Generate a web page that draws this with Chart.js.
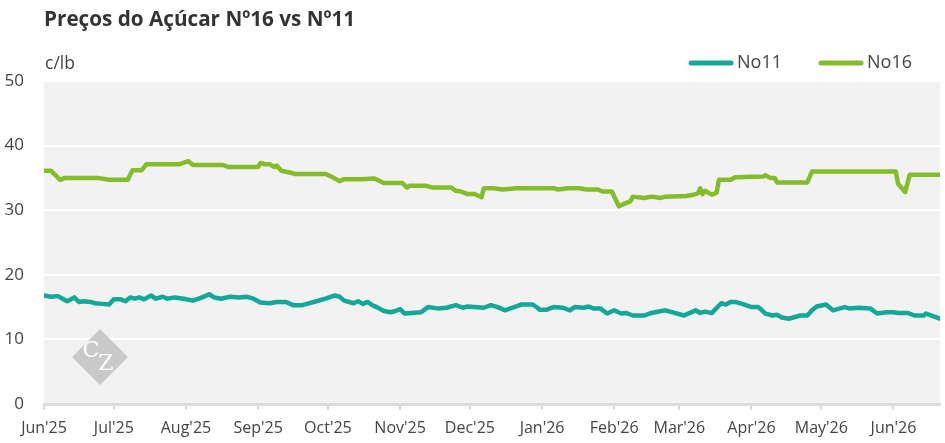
<!DOCTYPE html>
<html>
<head>
<meta charset="utf-8">
<script src="https://cdn.jsdelivr.net/npm/chart.js@4.4.1/dist/chart.umd.min.js"></script>
<style>
  html, body { margin: 0; padding: 0; background: #fff; }
  #wrap { width: 945px; height: 443px; position: relative; }
</style>
</head>
<body>
<div id="wrap"><canvas id="chart"></canvas></div>
<script>
// x values are days since 1 Jun 2025
const monthDays = [0, 30, 61, 92, 122, 153, 183, 214, 245, 273, 304, 334, 365];
const monthLabels = ["Jun'25", "Jul'25", "Aug'25", "Sep'25", "Oct'25", "Nov'25", "Dec'25",
  "Jan'26", "Feb'26", "Mar'26", "Apr'26", "May'26", "Jun'26"];

const no16Days = [0, 3, 7, 9, 23, 28, 36, 38, 42, 44, 58, 62, 64, 77, 79, 92, 93, 95, 97, 99,
  100, 102, 106, 108, 121, 124, 127, 129, 136, 142, 146, 154, 156, 157, 164, 167, 175, 177,
  179, 182, 185, 188, 189, 193, 197, 203, 219, 221, 225, 230, 233, 238, 240, 244, 247, 250,
  252, 253, 258, 261, 265, 267, 276, 279, 281, 282, 283, 284, 286, 287, 289, 290, 295, 297,
  309, 310, 312, 314, 315, 328, 330, 366, 367, 370, 372, 385];
const no16Values = [36.1, 36.1, 34.7, 35.0, 35.0, 34.7, 34.7, 36.2, 36.2, 37.1, 37.1, 37.6,
  37.0, 37.0, 36.7, 36.7, 37.3, 37.1, 37.1, 36.7, 36.9, 36.1, 35.8, 35.6, 35.6, 35.1, 34.5,
  34.8, 34.8, 34.9, 34.2, 34.2, 33.5, 33.8, 33.8, 33.5, 33.5, 33.0, 32.9, 32.5, 32.5, 32.0,
  33.4, 33.4, 33.2, 33.4, 33.4, 33.2, 33.4, 33.4, 33.2, 33.2, 32.9, 32.9, 30.6, 31.1, 31.4,
  32.1, 31.9, 32.1, 31.9, 32.1, 32.2, 32.4, 32.6, 33.4, 32.5, 33.0, 32.6, 32.4, 32.7, 34.7,
  34.7, 35.1, 35.2, 35.4, 35.0, 35.0, 34.3, 34.3, 36.0, 36.0, 34.1, 32.8, 35.5, 35.5];

const no11Days = [0, 3, 6, 8, 10, 13, 15, 17, 20, 22, 25, 28, 30, 33, 35, 37, 39, 41, 43, 46,
  48, 51, 53, 56, 60, 64, 68, 71, 73, 76, 80, 84, 87, 90, 93, 97, 100, 104, 107, 111, 113,
  117, 121, 125, 127, 129, 133, 135, 137, 139, 141, 143, 146, 149, 151, 153, 155, 158, 162,
  165, 169, 173, 177, 180, 182, 189, 192, 195, 198, 202, 205, 210, 212, 213, 216, 219, 223,
  226, 228, 232, 234, 236, 239, 242, 245, 248, 250, 253, 258, 261, 267, 271, 275, 280, 282,
  284, 287, 291, 293, 295, 297, 300, 304, 307, 310, 313, 315, 317, 320, 325, 328, 330, 332,
  336, 339, 344, 346, 350, 355, 358, 362, 365, 367, 371, 374, 378, 379, 382, 385];
const no11Values = [16.8, 16.6, 16.7, 16.3, 15.9, 16.5, 15.8, 15.9, 15.8, 15.6, 15.5, 15.4,
  16.2, 16.2, 15.9, 16.5, 16.3, 16.5, 16.2, 16.8, 16.3, 16.6, 16.3, 16.5, 16.3, 16.0, 16.5,
  17.0, 16.5, 16.3, 16.6, 16.5, 16.6, 16.3, 15.7, 15.6, 15.8, 15.8, 15.3, 15.3, 15.5, 15.9,
  16.3, 16.8, 16.6, 16.0, 15.6, 15.9, 15.5, 15.8, 15.3, 15.0, 14.4, 14.2, 14.4, 14.7, 14.0,
  14.1, 14.2, 15.0, 14.8, 14.9, 15.3, 14.9, 15.1, 14.9, 15.3, 15.0, 14.5, 15.0, 15.4, 15.4,
  14.9, 14.6, 14.6, 15.0, 14.9, 14.5, 15.0, 14.9, 15.1, 14.8, 14.8, 14.0, 14.5, 14.0, 14.1,
  13.7, 13.7, 14.1, 14.5, 14.1, 13.7, 14.5, 14.1, 14.3, 14.1, 15.6, 15.4, 15.8, 15.8, 15.5,
  15.0, 15.0, 14.0, 13.7, 13.8, 13.4, 13.2, 13.7, 13.7, 14.5, 15.1, 15.4, 14.5, 15.0, 14.8,
  14.9, 14.8, 14.0, 14.2, 14.2, 14.1, 14.1, 13.7, 13.7, 14.0, 13.6, 13.2];

const yTicks = [0, 10, 20, 30, 40, 50];

const FONT = "'Open Sans', sans-serif";

function toPoints(days, values) {
  return days.map((d, i) => ({ x: d, y: values[i] }));
}

// grey plot background, watermark, title, unit and legend
const decor = {
  id: 'decor',
  beforeDraw(chart) {
    const { ctx, chartArea: a } = chart;
    ctx.save();
    ctx.fillStyle = '#f2f2f2';
    ctx.fillRect(a.left, a.top, a.right - a.left, a.bottom - a.top);
    ctx.restore();
  },
  beforeDatasetsDraw(chart) {
    const { ctx, chartArea: a } = chart;
    const cx = a.left + 56, cy = a.bottom - 47, r = 28;
    ctx.save();
    ctx.fillStyle = '#c9c9c9';
    ctx.beginPath();
    ctx.moveTo(cx, cy - r);
    ctx.lineTo(cx + r, cy);
    ctx.lineTo(cx, cy + r);
    ctx.lineTo(cx - r, cy);
    ctx.closePath();
    ctx.fill();
    ctx.fillStyle = '#fff';
    ctx.font = "22px 'DejaVu Serif', serif";
    ctx.textAlign = 'center';
    ctx.textBaseline = 'middle';
    ctx.fillText('C', cx - 9, cy - 6);
    ctx.fillText('Z', cx + 6, cy + 7);
    ctx.restore();
  },
  afterDraw(chart) {
    const { ctx } = chart;
    ctx.save();
    ctx.fillStyle = '#333';
    ctx.font = "bold 20.7px " + FONT;
    ctx.textBaseline = 'alphabetic';
    ctx.fillText('Preços do Açúcar Nº16 vs Nº11', 44, 26);

    ctx.fillStyle = '#444';
    ctx.font = "17.5px " + FONT;
    ctx.fillText('c/lb', 45, 69);

    // legend, right aligned
    ctx.font = "18px " + FONT;
    ctx.textBaseline = 'middle';
    let x = 912;
    const items = chart.data.datasets.slice().reverse();
    items.forEach((ds) => {
      const w = ctx.measureText(ds.label).width;
      ctx.fillStyle = '#444';
      ctx.fillText(ds.label, x - w, 63);
      ctx.strokeStyle = ds.borderColor;
      ctx.lineWidth = 5;
      ctx.lineCap = 'round';
      ctx.beginPath();
      ctx.moveTo(x - w - 6, 63);
      ctx.lineTo(x - w - 46, 63);
      ctx.stroke();
      x = x - w - 48 - 37;
    });
    ctx.restore();
  }
};

new Chart(document.getElementById('chart'), {
  type: 'line',
  data: {
    datasets: [
      {
        label: 'No11',
        data: toPoints(no11Days, no11Values),
        borderColor: '#14a898',
        borderWidth: 4.5,
        pointRadius: 0,
        tension: 0,
        borderJoinStyle: 'round',
        borderCapStyle: 'round'
      },
      {
        label: 'No16',
        data: toPoints(no16Days, no16Values),
        borderColor: '#83bd2a',
        borderWidth: 4.5,
        pointRadius: 0,
        tension: 0,
        borderJoinStyle: 'round',
        borderCapStyle: 'round'
      }
    ]
  },
  options: {
    responsive: true,
    maintainAspectRatio: false,
    animation: false,
    layout: { padding: { top: 81, left: 4, right: 5, bottom: 0 } },
    plugins: {
      legend: { display: false },
      title: { display: false },
      tooltip: { enabled: false }
    },
    scales: {
      x: {
        type: 'linear',
        min: 0,
        max: 385,
        afterBuildTicks(axis) {
          axis.ticks = monthDays.map((v) => ({ value: v }));
        },
        afterFit(axis) {
          // first label may hang over the left edge
          axis.paddingLeft = 0;
          axis.paddingRight = 0;
          axis.height = 39;
        },
        ticks: {
          autoSkip: false,
          maxRotation: 0,
          padding: 10,
          color: '#444',
          font: { family: FONT, size: 16, lineHeight: 1 },
          callback(value) {
            const i = monthDays.indexOf(value);
            return i >= 0 ? monthLabels[i] : '';
          }
        },
        grid: {
          drawOnChartArea: false,
          drawTicks: true,
          tickLength: 6,
          color: '#dcdcdc',
          lineWidth: 2
        },
        border: { display: true, color: '#dcdcdc', width: 3 }
      },
      y: {
        min: 0,
        max: 50,
        afterBuildTicks(axis) {
          axis.ticks = yTicks.map((v) => ({ value: v }));
        },
        afterFit(axis) {
          axis.width = 40;
        },
        ticks: {
          padding: 20,
          color: '#444',
          font: { family: FONT, size: 17 }
        },
        grid: {
          color: '#ffffff',
          lineWidth: 2,
          drawTicks: false
        },
        border: { display: false }
      }
    }
  },
  plugins: [decor]
});
</script>
</body>
</html>
